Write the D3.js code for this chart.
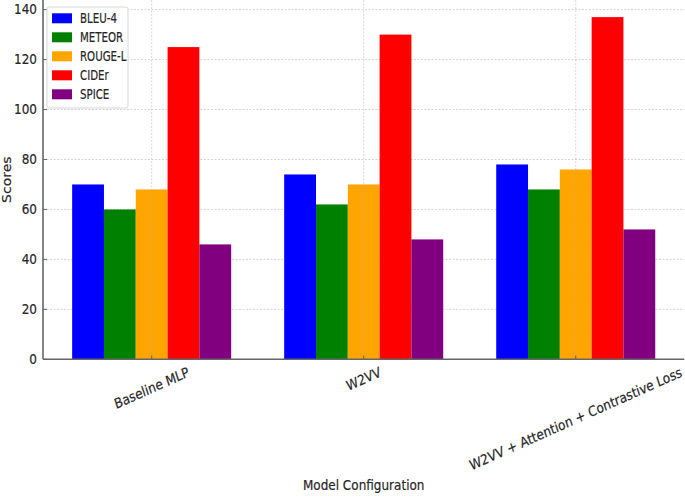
<!DOCTYPE html>
<html>
<head>
<meta charset="utf-8">
<script src="https://cdn.jsdelivr.net/npm/d3@7"></script>
<style>
  body { margin: 0; background: #fff; }
  text { font-family: "DejaVu Sans", sans-serif; fill: #262626; stroke: #262626; stroke-width: 0.2px; }
</style>
</head>
<body>
<script>
const width = 685;
const height = 497;

// data
const categories = ["Baseline MLP", "W2VV", "W2VV + Attention + Contrastive Loss"];
const metrics = ["BLEU-4", "METEOR", "ROUGE-L", "CIDEr", "SPICE"];
const bleu = [70, 74, 78];
const meteor = [60, 62, 68];
const rouge = [68, 70, 76];
const cider = [125, 130, 137];
const spice = [46, 48, 52];
const yTicks = [0, 20, 40, 60, 80, 100, 120, 140];
const colors = ["#0000ff", "#008000", "#ffa500", "#ff0000", "#800080"];

const series = [bleu, meteor, rouge, cider, spice];
const barW = 0.15;

// plot area (top and right edges are cropped off in the source)
const pLeft = 43, pRight = 684.4, pTop = 0, pBottom = 359.3;
const sx = 0.86;   // source image is squeezed horizontally

const x = d3.scaleLinear().domain([-0.5125, 2.5125]).range([pLeft, pRight]);
const y = d3.scaleLinear().domain([0, 143.85]).range([pBottom, pTop]);

const svg = d3.select("body").append("svg")
    .attr("width", width)
    .attr("height", height);

// horizontal grid, behind the bars
svg.append("g")
    .selectAll("line")
    .data(yTicks.slice(1))
    .join("line")
    .attr("x1", pLeft).attr("x2", pRight)
    .attr("y1", d => y(d)).attr("y2", d => y(d))
    .attr("stroke", "#d4d4d4")
    .attr("stroke-width", 1)
    .attr("stroke-dasharray", "2,1.5");

// bars
series.forEach((vals, i) => {
    svg.append("g")
        .selectAll("rect")
        .data(vals)
        .join("rect")
        .attr("x", (d, j) => x(j + (i - 2) * barW - barW / 2))
        .attr("width", x(barW) - x(0))
        .attr("y", d => y(d))
        .attr("height", d => y(0) - y(d))
        .attr("fill", colors[i]);
});

// vertical grid, faintly visible over the bars
svg.append("g")
    .selectAll("line")
    .data(categories)
    .join("line")
    .attr("x1", (d, j) => x(j)).attr("x2", (d, j) => x(j))
    .attr("y1", pTop).attr("y2", pBottom)
    .attr("stroke", "#b0b0b0")
    .attr("stroke-opacity", 0.45)
    .attr("stroke-width", 1)
    .attr("stroke-dasharray", "2,1.5");

// spines
svg.append("line")
    .attr("x1", pLeft).attr("x2", pLeft)
    .attr("y1", pTop).attr("y2", pBottom)
    .attr("stroke", "#666").attr("stroke-width", 1.6);
svg.append("line")
    .attr("x1", pLeft).attr("x2", pRight)
    .attr("y1", pBottom).attr("y2", pBottom)
    .attr("stroke", "#666").attr("stroke-width", 1.6);

// y ticks (inward) and labels
const yt = svg.append("g");
yt.selectAll("line")
    .data(yTicks)
    .join("line")
    .attr("x1", pLeft).attr("x2", pLeft + 4)
    .attr("y1", d => y(d)).attr("y2", d => y(d))
    .attr("stroke", "#666");
yt.selectAll("text")
    .data(yTicks)
    .join("text")
    .attr("transform", d => `translate(37,${y(d)}) scale(${sx},1)`)
    .attr("text-anchor", "end")
    .attr("dominant-baseline", "central")
    .style("font-size", "14px")
    .text(d => d);

// x ticks (inward) and rotated labels
const xt = svg.append("g");
xt.selectAll("line")
    .data(categories)
    .join("line")
    .attr("x1", (d, j) => x(j)).attr("x2", (d, j) => x(j))
    .attr("y1", pBottom).attr("y2", pBottom - 4)
    .attr("stroke", "#666");
const rot = 21;
xt.selectAll("text")
    .data(categories)
    .join("text")
    .attr("text-anchor", "middle")
    .attr("dominant-baseline", "central")
    .style("font-size", "14px")
    .text(d => d)
    .attr("transform", function (d, j) {
        const L = this.getComputedTextLength();
        const cy = 366 + L * Math.sin(rot * Math.PI / 180) / 2 + 5.5;
        return `translate(${x(j)},${cy}) scale(${sx},1) rotate(${-rot})`;
    });

// axis titles
svg.append("text")
    .attr("transform", `translate(${(pLeft + pRight) / 2},489.5) scale(${sx},1)`)
    .attr("text-anchor", "middle")
    .style("font-size", "14px")
    .text("Model Configuration");

svg.append("text")
    .attr("transform", `translate(7,${(pTop + pBottom) / 2}) scale(${sx},1) rotate(-90)`)
    .attr("text-anchor", "middle")
    .attr("dominant-baseline", "central")
    .style("font-size", "14px")
    .text("Scores");

// legend
const lg = svg.append("g");
lg.append("rect")
    .attr("x", 47).attr("y", 7)
    .attr("width", 81).attr("height", 101)
    .attr("rx", 2)
    .attr("fill", "#fff")
    .attr("fill-opacity", 0.9)
    .attr("stroke", "#d8d8d8");
const rows = lg.selectAll("g")
    .data(metrics)
    .join("g")
    .attr("transform", (d, i) => `translate(52,${18.3 + i * 19})`);
rows.append("rect")
    .attr("x", 0).attr("y", -5)
    .attr("width", 20).attr("height", 10)
    .attr("fill", (d, i) => colors[i]);
rows.append("text")
    .attr("transform", `translate(28,0) scale(0.76,1)`)
    .attr("dominant-baseline", "central")
    .style("font-size", "13.5px")
    .text(d => d);
</script>
</body>
</html>
